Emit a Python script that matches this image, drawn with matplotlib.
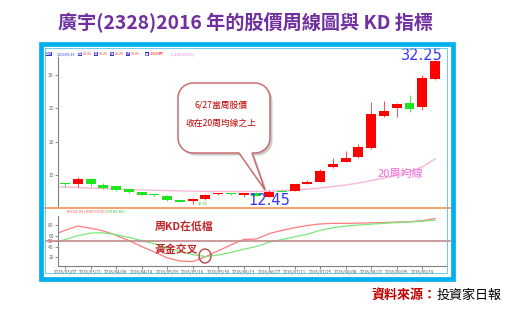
import matplotlib
matplotlib.use("Agg")
import matplotlib.pyplot as plt
import matplotlib.transforms as mtrans
from matplotlib.patches import Rectangle, Polygon, Ellipse
from matplotlib.lines import Line2D
import numpy as np

plt.rcParams["font.family"] = ["Noto Sans CJK TC", "DejaVu Sans"]

# ---------------- data ----------------
title = "廣宇(2328)2016 年的股價周線圖與 KD 指標"
source_label = "資料來源："
source_name = "投資家日報"

date_labels = ["2016/03/07", "2016/03/21", "2016/04/06", "2016/04/18", "2016/05/03",
               "2016/05/16", "2016/05/30", "2016/06/13", "2016/06/27", "2016/07/11",
               "2016/07/25", "2016/08/08", "2016/08/22", "2016/09/05", "2016/09/19"]

# weekly candles, 2016/03/07 ... 2016/09/26
opens = [13.7, 13.65, 14.4, 13.5, 13.35, 12.85, 12.4, 12.1, 11.9, 11.2,
         11.15, 11.4, 12.1, 12.25, 12.0, 12.35, 11.75, 12.6, 12.65, 13.65,
         13.95, 16.25, 17.0, 17.75, 19.0, 23.85, 25.05, 25.7, 25.2, 29.35]
highs = [13.85, 14.75, 14.6, 13.75, 13.4, 12.95, 12.5, 12.2, 11.95, 11.3,
         11.6, 12.1, 12.3, 12.3, 12.35, 12.45, 12.7, 12.7, 13.7, 14.25,
         15.9, 17.5, 18.6, 19.6, 25.95, 26.05, 25.7, 26.95, 29.95, 32.25]
lows = [13.2, 13.2, 13.4, 12.85, 12.6, 12.35, 11.95, 11.9, 11.15, 10.95,
        10.59, 11.3, 12.0, 12.0, 11.65, 11.8, 11.7, 12.4, 12.55, 13.6,
        13.9, 16.1, 16.9, 17.6, 18.85, 23.7, 23.7, 24.45, 24.7, 29.2]
closes = [13.6, 14.4, 13.65, 13.05, 12.75, 12.45, 12.05, 12.0, 11.25, 11.0,
          11.45, 12.0, 12.25, 12.1, 12.25, 11.85, 12.45, 12.45, 13.6, 13.9,
          15.6, 16.6, 17.5, 19.15, 24.1, 24.55, 25.55, 24.8, 29.55, 32.05]

# line series start one week earlier (2016/02/29), clipped at the left edge
ma20 = [13.27, 13.2, 13.13, 13.05, 12.98, 12.9, 12.83, 12.76, 12.71, 12.67, 12.62,
        12.58, 12.55, 12.53, 12.53, 12.53, 12.56, 12.6, 12.67, 12.76, 12.9,
        13.05, 13.28, 13.5, 13.8, 14.18, 14.55, 15.0, 15.52, 16.2, 17.4]
k9 = [61, 70, 78, 74, 69, 61, 51, 40, 30, 19, 13,
      12, 21, 32, 43, 53, 54, 64, 70, 75, 79,
      82, 83, 83, 83.5, 84, 84.5, 85.5, 86, 88, 92]
d9 = [45.5, 53, 60, 65, 65.5, 62, 57, 51, 45, 37.5, 31,
      25, 21.5, 24, 29, 35, 40, 48, 53, 58, 63,
      70, 75, 78, 80, 81.5, 83, 84.5, 85.5, 87, 89]

price_ticks = [15, 20, 25, 30]
kd_ticks = [20, 40, 50, 60, 80]
callout_lines = ["6/27當周股價", "收在20周均線之上"]
ma_label = "20周均線"
kd_notes = ["周KD在低檔", "黃金交叉"]
callout_week = 16

# ---------------- figure ----------------
W, H = 520, 318
fig = plt.figure(figsize=(5.2, 3.18), dpi=100)
fig.patch.set_facecolor("white")
pxT = mtrans.Affine2D().scale(1 / W, -1 / H).translate(0, 1) + fig.transFigure


def axrect(x0, y0, x1, y1):
    return [x0 / W, 1 - y1 / H, (x1 - x0) / W, (y1 - y0) / H]


ax = fig.add_axes(axrect(58, 57, 446, 207.5))
axk = fig.add_axes(axrect(58, 216, 446, 266))

o = np.array(opens); c = np.array(closes); hi = np.array(highs); lo = np.array(lows)
x = np.arange(len(o))
up = c >= o
body_col = np.where(up, "#ff0000", "#1ee61e")
wick_col = np.where(up, "#ff4a4a", "#4ae64a")
ax.vlines(x, lo, hi, colors=wick_col, lw=0.7, zorder=2)
ax.bar(x, np.maximum(np.abs(c - o), 0.13), bottom=np.minimum(o, c), width=0.78,
       color=body_col, lw=0, zorder=3)

xl = np.arange(len(ma20)) - 1
ax.plot(xl, ma20, color="#f6b7d6", lw=1.0, zorder=1)

ax.set_xlim(-0.55, 29.86)
ax.set_ylim(10.14, 32.65)
for s in ["top", "right", "bottom"]:
    ax.spines[s].set_visible(False)
ax.spines["left"].set_color("#808080")
ax.spines["left"].set_linewidth(0.8)
ax.set_xticks([])
ax.set_yticks(price_ticks)
ax.tick_params(axis="y", labelsize=3.6, length=2, width=0.5, colors="#666666", pad=1)

numfont = ["Liberation Sans Narrow", "DejaVu Sans"]
ax.text(28, 32.8, f"{max(highs):.2f}", ha="center", va="center", fontsize=10.5,
        color="#3535ff", family=numfont)
ax.text(callout_week, 11.2, f"{closes[callout_week]:.2f}", ha="center", va="center",
        fontsize=10.5, color="#3535ff", family=numfont, zorder=6)
ax.text(10.4, 10.59, f"{min(lows):.2f}", ha="left", va="center", fontsize=2.8,
        color="#33bb33")
ax.text(400, 174, ma_label, transform=pxT, ha="center", va="center", fontsize=8,
        color="#f06ad8")

# KD panel
axk.plot(xl, k9, color="#ff7b7b", lw=0.9)
axk.plot(xl, d9, color="#7be87b", lw=0.9)
axk.set_xlim(-0.55, 29.86)
axk.set_ylim(3.8, 96.7)
for s in ["top", "right"]:
    axk.spines[s].set_visible(False)
for s in ["left", "bottom"]:
    axk.spines[s].set_color("#808080")
    axk.spines[s].set_linewidth(0.8)
axk.set_yticks(kd_ticks)
axk.tick_params(axis="y", labelsize=3.6, length=2, width=0.5, colors="#666666", pad=1)
for lab, v in zip(axk.get_yticklabels(), kd_ticks):
    if v == 50:
        lab.set_color("#e04040")
axk.set_xticks(np.arange(0, 30, 2))
axk.set_xticklabels(date_labels)
axk.tick_params(axis="x", labelsize=3.2, length=2, width=0.5, colors="#555555", pad=1)

bt = mtrans.blended_transform_factory(pxT, axk.transData)
fig.add_artist(Line2D([46, 450], [50, 50], transform=bt, color="#c48a8a", lw=1.2, zorder=2))

# orange separator
fig.add_artist(Line2D([44, 450], [207.5, 207.5], transform=pxT, color="#f5a36b", lw=1.4, zorder=2))

# frame
fig.add_artist(Rectangle((41, 44), 411.5, 235, transform=pxT, fill=False,
                         ec="#00b0f0", lw=3.4, zorder=8))
fig.add_artist(Rectangle((45, 47.5), 402, 225.5, transform=pxT, fill=False,
                         ec="#55c4f0", lw=0.6, zorder=8))

# info lines
info = [(45, "週線", "box"), (57, "2016/09/26", "#3333cc"),
        (78, "開", "box"), (83, f"{opens[-1]:.2f}", "#ff3333"),
        (94, "高", "box"), (99, f"{highs[-1]:.2f}", "#ff3333"),
        (110, "低", "box"), (115, f"{lows[-1]:.2f}", "#ff3333"),
        (126, "收", "box"), (131, f"{closes[-1]:.2f}", "#ff3333"),
        (145, "量", "box"), (150, "23845張", "#ff3333"),
        (171, "(+3.85 13.6%)", "#ff66cc")]
for xp, s, col in info:
    if col == "box":
        fig.text(xp, 54, s, transform=pxT, ha="left", va="center", fontsize=2.6,
                 color="white", bbox=dict(fc="#3333cc", ec="none", pad=0.15))
    else:
        fig.text(xp, 54, s, transform=pxT, ha="left", va="center", fontsize=2.6, color=col)

kd_leg = [(67, f"K9 {k9[-1]:.2f} |", "#ff5050"), (86, "RSV 99.50 |", "#ff5050"),
          (107, f"D9 {d9[-1]:.2f} |", "#30c030")]
for xp, s, col in kd_leg:
    fig.text(xp, 211.5, s, transform=pxT, ha="left", va="center", fontsize=3.0, color=col)

# callout
def callout_pts(x0, y0, x1, y1, r, b1, b2, tip):
    pts = []
    def arc(cx, cy, a0, a1):
        for t in np.linspace(np.radians(a0), np.radians(a1), 10):
            pts.append((cx + r * np.cos(t), cy + r * np.sin(t)))
    arc(x1 - r, y0 + r, -90, 0)
    arc(x1 - r, y1 - r, 0, 90)
    pts.append((b2, y1)); pts.append(tip); pts.append((b1, y1))
    arc(x0 + r, y1 - r, 90, 180)
    arc(x0 + r, y0 + r, 180, 270)
    return pts

pts = callout_pts(178, 83, 270, 153, 15, 239, 252, (265, 190))
shadow = [(px_ + 2.5, py_ + 2.5) for px_, py_ in pts]
fig.add_artist(Polygon(shadow, closed=True, transform=pxT, fc="#a0a0a0", ec="none",
                       alpha=0.55, zorder=5))
fig.add_artist(Polygon(pts, closed=True, transform=pxT, fc="white", ec="#c86e6e",
                       lw=1.1, zorder=5))
fig.text(221, 105, callout_lines[0], transform=pxT, ha="center", va="center",
         fontsize=6.3, color="#c00000", zorder=6)
fig.text(221, 123, callout_lines[1], transform=pxT, ha="center", va="center",
         fontsize=6.3, color="#c00000", zorder=6)

# KD notes
fig.text(184, 226, kd_notes[0], transform=pxT, ha="center", va="center",
         fontsize=7.8, color="#c0282a", fontweight="bold", zorder=6)
fig.text(176.5, 249.5, kd_notes[1], transform=pxT, ha="center", va="center",
         fontsize=7.8, color="#c0282a", fontweight="bold", zorder=6)
fig.add_artist(Ellipse((205, 256), 12, 14, transform=pxT, fill=False, ec="#b04848",
                       lw=1.0, zorder=6))

# title and source
fig.text(246, 22.5, title, transform=pxT, ha="center", va="center", fontsize=13.8,
         fontweight="bold", color="#7030a0")
fig.text(437, 295, source_label, transform=pxT, ha="right", va="center", fontsize=9.4,
         fontweight="bold", color="#c00000")
fig.text(437, 295, source_name, transform=pxT, ha="left", va="center", fontsize=9.4,
         color="black")

fig.savefig("out.png", dpi=100)
